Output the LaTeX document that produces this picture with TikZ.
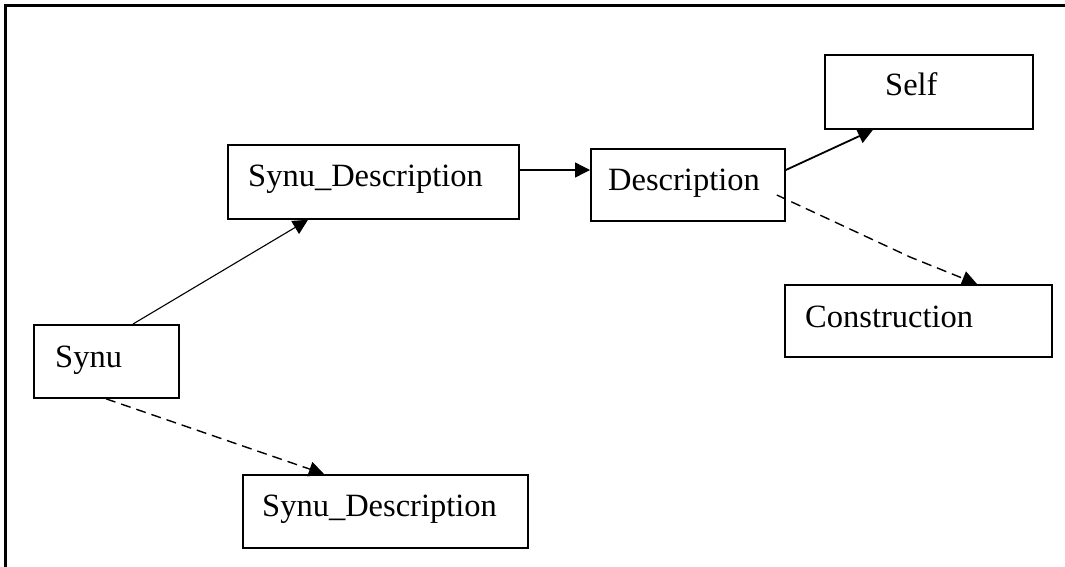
\documentclass[tikz,border=0pt]{standalone}
\usepackage{fontspec}
\setmainfont{Liberation Serif}
\usetikzlibrary{arrows.meta,calc}

\begin{document}
\begin{tikzpicture}[x=1pt,y=-1pt,
  box/.style={draw,line width=1.8pt,inner sep=0pt,anchor=north west},
  lbl/.style={anchor=base west,inner sep=0pt,font=\fontsize{32.5}{36}\selectfont},
  tip/.style={-{Triangle[length=15pt,width=15pt]}},
  link/.style={tip,line width=1.1pt},
  weak/.style={tip,line width=1.4pt,dash pattern=on 10pt off 6pt}]
\useasboundingbox (0,0) rectangle (1065,566);

% outer frame (runs off the right and bottom edges)
\draw[line width=2.4pt] (5.5,580) -- (5.5,5.5) -- (1080,5.5);

% boxes
\node[box,minimum width=145pt,minimum height=73pt] (synu) at (33,324) {};
\node[box,minimum width=285pt,minimum height=73pt] (sdlow) at (242,474) {};
\node[box,minimum width=291pt,minimum height=74pt] (sdup) at (227,144) {};
\node[box,minimum width=194pt,minimum height=72pt] (desc) at (590,148) {};
\node[box,minimum width=208pt,minimum height=74pt] (self) at (824,54) {};
\node[box,minimum width=267pt,minimum height=72pt] (cons) at (784,284) {};

% labels
\node[lbl] (tsynu) at (55,367) {Synu};
\node[lbl] (tsdlow) at (262,516) {Synu\_Description};
\node[lbl] (tsdup) at (248,186) {Synu\_Description};
\node[lbl] (tdesc) at (608,190) {Description};
\node[lbl] (tself) at (885,95) {Self};
\node[lbl] (tcons) at (805,327) {Construction};

% connectors
\draw[link] ($(synu.north west)+(100,0)$) -- ($(sdup.south west)+(81,0)$);
\draw[link,line width=1.4pt] (sdup.east |- 0,170) -- (desc.west |- 0,170);
\draw[link,line width=1.8pt] (desc.east |- 0,170) -- ($(self.south west)+(49,0)$);
\draw[weak] ($(desc.north east)+(-9,47)$) -- (910,257) -- ($(cons.north west)+(193,0)$);
\draw[weak] ($(synu.south west)+(73,0)$) -- ($(sdlow.north west)+(82,0)$);
\end{tikzpicture}
\end{document}
